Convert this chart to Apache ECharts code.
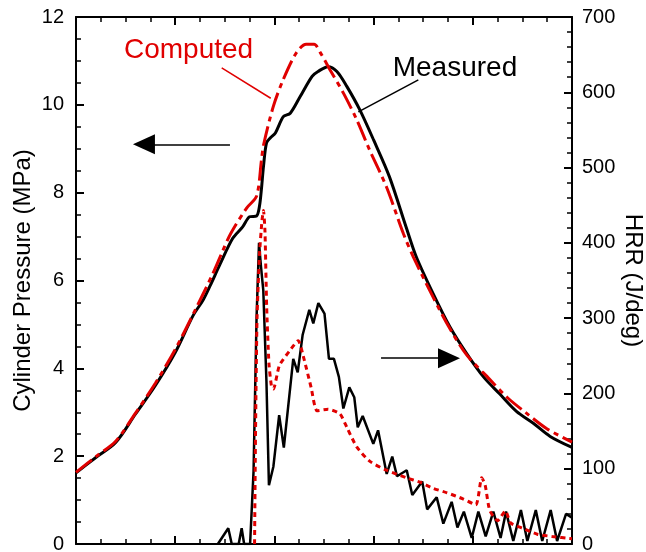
<!DOCTYPE html>
<html>
<head>
<meta charset="utf-8">
<title>Cylinder pressure and HRR</title>
<script src="https://cdn.jsdelivr.net/npm/echarts@6.0.0/dist/echarts.min.js"></script>
<style>
  html, body { margin: 0; padding: 0; background: #fff; }
  #chart { width: 646px; height: 552px; }
</style>
</head>
<body>
<div id="chart"></div>
<script>
// crank angle (deg) vs cylinder pressure (MPa)
const pressureMeasured = [
  [-20, 1.62], [-18, 1.97], [-16, 2.31], [-14, 2.96], [-12, 3.61], [-10, 4.36],
  [-8.2, 5.2], [-7.2, 5.55], [-6.5, 5.87], [-5.5, 6.36], [-4.2, 6.96], [-3.2, 7.22],
  [-2.5, 7.45], [-1.8, 7.47], [-1.5, 7.7], [-1.3, 8.1], [-1.1, 8.6], [-0.8, 9.13],
  [-0.4, 9.25], [0.1, 9.36], [0.9, 9.73], [1.6, 9.81], [2.6, 10.19], [3.8, 10.65],
  [4.4, 10.76], [5.4, 10.87], [6.3, 10.76], [7.3, 10.42], [8.6, 9.89], [10, 9.2],
  [11.6, 8.36], [13.3, 7.2], [14.3, 6.54], [16, 5.7], [17.7, 4.94], [19.4, 4.33],
  [21.1, 3.8], [22.7, 3.42], [24.4, 3.02], [26.1, 2.75], [27.8, 2.45], [30, 2.2]
];
const pressureComputed = [
  [-20, 1.63], [-18, 1.99], [-16, 2.34], [-14, 2.98], [-12, 3.66], [-10, 4.43],
  [-8, 5.32], [-6.2, 6.16], [-5.2, 6.68], [-4.4, 7.07], [-2.8, 7.65], [-1.8, 7.92],
  [-1.3, 8.75], [-1.1, 9.08], [-0.1, 9.97], [0.9, 10.58], [2.2, 11.18], [3.2, 11.38],
  [4.0, 11.38], [4.6, 11.2], [5.6, 10.8], [7.0, 10.25], [8.3, 9.66], [9.6, 8.97],
  [11.3, 8.13], [13, 7.07], [14, 6.54], [16, 5.62], [17.7, 4.9], [19.4, 4.3],
  [21.7, 3.75], [23.5, 3.33], [25.4, 2.98], [27.5, 2.62], [30, 2.32]
];

// crank angle (deg) vs heat release rate (J/deg)
const hrrMeasured = [
  [-5.7, 0], [-4.65, 21], [-4.3, 0], [-3.6, 0], [-3.3, 21], [-3.05, 0], [-2.45, 0],
  [-2.1, 97], [-1.8, 300], [-1.55, 400], [-1.35, 368], [-1.12, 337], [-0.8, 215],
  [-0.55, 78], [-0.1, 103], [0.48, 171], [0.95, 128], [1.9, 246], [2.35, 228],
  [2.85, 278], [3.52, 311], [3.92, 293], [4.43, 320], [5.05, 306], [5.5, 246],
  [6.0, 246], [6.5, 222], [6.95, 180], [7.55, 208], [8.05, 195], [8.4, 155],
  [8.9, 170], [9.97, 133], [10.45, 151], [11.32, 93], [11.88, 116], [12.36, 90],
  [13.34, 98], [13.9, 65], [14.9, 83], [15.4, 46], [16.36, 62], [17.03, 27],
  [17.87, 56], [18.45, 22], [19.1, 43], [19.89, 8], [20.56, 43], [21.3, 10],
  [22.07, 43], [22.8, 8], [23.35, 43], [24.08, 4], [24.85, 45], [25.5, 4],
  [26.35, 45], [27.0, 4], [27.85, 45], [28.5, 4], [29.4, 40], [30, 35]
];
const hrrComputed = [
  [-2.0, 0], [-1.9, 150], [-1.75, 300], [-1.5, 385], [-1.25, 430], [-1.1, 443],
  [-0.95, 415], [-0.78, 315], [-0.55, 240], [-0.3, 210], [-0.1, 206], [0.5, 237],
  [1.5, 256], [2.4, 270], [2.9, 250], [3.7, 208], [4.3, 177], [5.4, 179],
  [6.6, 173], [7.3, 155], [8.3, 129], [9.6, 110], [11.3, 98], [13.3, 88],
  [14.7, 82], [16, 74], [17.4, 68], [19, 60], [20.3, 52], [20.9, 88], [21.25, 78],
  [21.7, 45], [22.5, 31], [23.3, 44], [23.8, 28], [25, 21], [26.5, 13], [28, 10],
  [30, 7]
];

// annotation anchors, in data units of the pressure axis
const leftArrow = [[-4.48, 9.1], [-13.15, 9.1]];
const rightArrow = [[10.75, 4.23], [17.6, 4.23]];
const computedLeader = [[-5.31, 10.84], [-0.37, 10.15]];
const measuredLeader = [[14.51, 10.57], [8.46, 9.84]];
const computedText = [-8.65, 11.24];
const measuredText = [18.2, 10.84];

const RED = '#e00000';
const FONT = 'Liberation Sans, Arial, sans-serif';

const tickStyle = { color: '#000', width: 2 };
function xAx(pos) {
  return {
    type: 'value', position: pos, min: -20, max: 30, interval: 10,
    axisLine: { onZero: false, lineStyle: { color: '#000', width: 2 } },
    axisTick: { inside: true, length: 8, lineStyle: tickStyle },
    minorTick: { show: true, splitNumber: 4, length: 5, lineStyle: { color: '#000', width: 1.5 } },
    axisLabel: { show: false },
    splitLine: { show: false }
  };
}

const chart = echarts.init(document.getElementById('chart'));
chart.setOption({
  animation: false,
  textStyle: { fontFamily: FONT },
  grid: { left: 76, right: 74, top: 17, bottom: 8, containLabel: false, outerBoundsMode: 'none' },
  xAxis: [xAx('bottom'), xAx('top')],
  yAxis: [
    {
      type: 'value', position: 'left', min: 0, max: 12, interval: 2,
      name: 'Cylinder Pressure (MPa)', nameLocation: 'middle', nameGap: 41, nameRotate: 90,
      nameMoveOverlap: false,
      nameTextStyle: { fontSize: 24, color: '#000', fontFamily: FONT },
      axisLine: { show: true, onZero: false, lineStyle: { color: '#000', width: 2 } },
      axisTick: { show: true, inside: true, length: 8, lineStyle: tickStyle },
      minorTick: { show: true, splitNumber: 4, length: 5, lineStyle: { color: '#000', width: 1.5 } },
      axisLabel: { fontSize: 20, color: '#000', margin: 12, fontFamily: FONT },
      splitLine: { show: false }
    },
    {
      type: 'value', position: 'right', min: 0, max: 700, interval: 100,
      name: 'HRR (J/deg)', nameLocation: 'middle', nameGap: 49, nameRotate: -90,
      nameMoveOverlap: false,
      nameTextStyle: { fontSize: 24, color: '#000', fontFamily: FONT },
      axisLine: { show: true, onZero: false, lineStyle: { color: '#000', width: 2 } },
      axisTick: { show: true, inside: true, length: 8, lineStyle: tickStyle },
      minorTick: { show: true, splitNumber: 5, length: 5, lineStyle: { color: '#000', width: 1.5 } },
      axisLabel: { fontSize: 20, color: '#000', margin: 10, fontFamily: FONT },
      splitLine: { show: false }
    }
  ],
  series: [
    {
      name: 'Measured pressure', type: 'line', yAxisIndex: 0, data: pressureMeasured,
      showSymbol: false, smooth: 0.3, z: 4,
      lineStyle: { color: '#000', width: 3 },
      markLine: {
        silent: true, symbol: 'none', label: { show: false },
        data: [
          [
            { coord: leftArrow[0], symbol: 'none' },
            { coord: leftArrow[1], symbol: 'triangle', symbolSize: [20, 22] }
          ],
          [
            { coord: rightArrow[0], symbol: 'none' },
            { coord: rightArrow[1], symbol: 'triangle', symbolSize: [20, 22] }
          ],
          [
            { coord: computedLeader[0], lineStyle: { color: RED, width: 1.5, type: 'solid' } },
            { coord: computedLeader[1] }
          ],
          [
            { coord: measuredLeader[0], lineStyle: { color: '#000', width: 1.5, type: 'solid' } },
            { coord: measuredLeader[1] }
          ]
        ],
        lineStyle: { color: '#000', width: 1.5, type: 'solid' }
      },
      markPoint: {
        silent: true, symbolSize: 0,
        data: [
          { coord: computedText, label: { show: true, position: 'inside', formatter: 'Computed', fontSize: 28, color: RED, fontFamily: FONT } },
          { coord: measuredText, label: { show: true, position: 'inside', formatter: 'Measured', fontSize: 28, color: '#000', fontFamily: FONT } }
        ]
      }
    },
    {
      name: 'Computed pressure', type: 'line', yAxisIndex: 0, data: pressureComputed,
      showSymbol: false, smooth: 0.3, z: 5,
      lineStyle: { color: RED, width: 3, type: [20, 5, 5, 5] }
    },
    {
      name: 'Measured HRR', type: 'line', yAxisIndex: 1, data: hrrMeasured,
      showSymbol: false, z: 3,
      lineStyle: { color: '#000', width: 2.5 }
    },
    {
      name: 'Computed HRR', type: 'line', yAxisIndex: 1, data: hrrComputed,
      showSymbol: false, smooth: 0.2, z: 4,
      lineStyle: { color: RED, width: 3, type: [5, 4] }
    }
  ]
});
</script>
</body>
</html>
